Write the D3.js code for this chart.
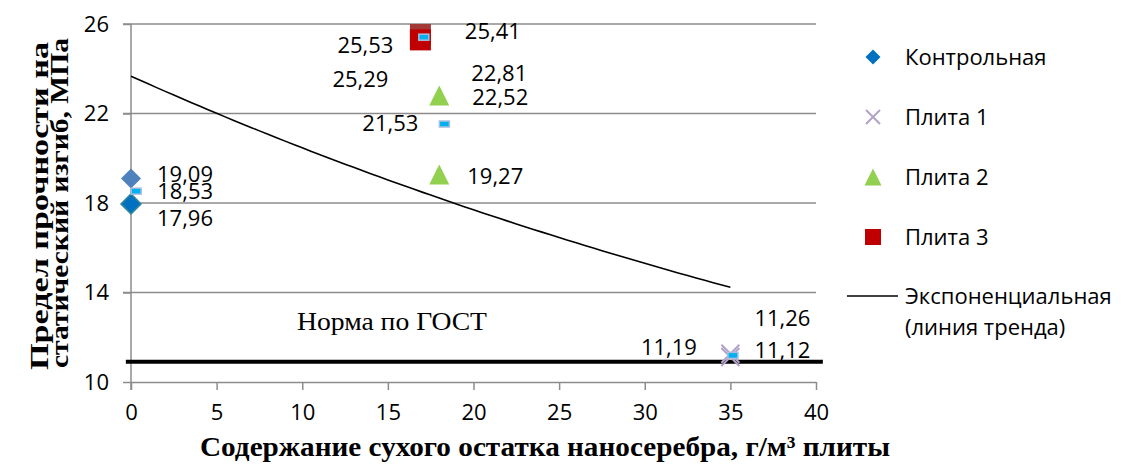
<!DOCTYPE html>
<html>
<head>
<meta charset="utf-8">
<script src="https://cdn.jsdelivr.net/npm/d3@7"></script>
<style>
  body { margin: 0; background: #fff; }
  svg { display: block; }
</style>
</head>
<body>
<svg id="chart" width="1121" height="464"></svg>
<script>
// data
const xTicks = [0, 5, 10, 15, 20, 25, 30, 35, 40];
const yTicks = [10, 14, 18, 22, 26];

const controlX = 0;
const controlValues = [19.09, 17.96];
const plate1X = 35;
const plate1Values = [11.26, 11.12];
const plate2X = 18;
const plate2Values = [22.81, 19.27];
const plate2Hidden = [22.52];           // label only, marker not visible
const plate3X = 16.9;
const plate3Values = [25.53, 25.29];

// means (small dash markers)
const meanX = [0.3, 35.15, 18.3, 17.1];
const meanValues = [18.53, 11.19, 21.53, 25.41];

// trend fitted over means at group x
const trendX = [0, 35, 18, 17];
const gostValue = 10.9;

const legendNames = ["Контрольная", "Плита 1", "Плита 2", "Плита 3"];

// label offsets (px) relative to the point, by label text
const labelPos = {
  "19,09": [26, 3, "start"], "17,96": [26, 22, "start"], "18,53": [21, 8, "start"],
  "11,26": [24, -28, "start"], "11,12": [24, 1, "start"], "11,19": [-36, 0, "end"],
  "22,81": [32, -14, "start"], "19,27": [28, 9, "start"], "22,52": [33, 3, "start"],
  "25,53": [-27, 18, "end"], "25,29": [-32, 47, "end"], "25,41": [41, 2, "start"],
  "21,53": [-26, 7, "end"]
};

const svg = d3.select("#chart");
const x = d3.scaleLinear().domain([0, 40]).range([131, 816]);
const y = d3.scaleLinear().domain([10, 26]).range([382, 24]);
const fmt = v => d3.format(".2f")(v).replace(".", ",");
const gridColor = "#8c8c8c";
const labelFont = "'Open Sans', sans-serif";
const fs = 22;

// gridlines
svg.append("g").selectAll("line").data(yTicks.filter(d => d > 10)).enter().append("line")
  .attr("x1", x(0) - 8).attr("x2", x(40))
  .attr("y1", d => y(d)).attr("y2", d => y(d))
  .attr("stroke", gridColor).attr("stroke-width", 1.5);

// axes
const yAxis = svg.append("g").attr("transform", `translate(${x(0)},0)`)
  .call(d3.axisLeft(y).tickValues(yTicks).tickSize(8).tickSizeOuter(0).tickPadding(14));
const xAxis = svg.append("g").attr("transform", `translate(0,${y(10)})`)
  .call(d3.axisBottom(x).tickValues(xTicks).tickSize(8).tickSizeOuter(0).tickPadding(14));
[xAxis, yAxis].forEach(a => {
  a.selectAll("path, line").attr("stroke", gridColor).attr("stroke-width", 1.5);
  a.selectAll("text").attr("font-family", labelFont).attr("font-size", fs).attr("fill", "#000");
});
yAxis.select(".domain").attr("d", `M0,${y(26)}V${y(10)}`);
yAxis.append("line").attr("x1", 0).attr("x2", 0).attr("y1", y(10)).attr("y2", y(10) + 8)
  .attr("stroke", gridColor).attr("stroke-width", 1.5);

// GOST norm line
svg.append("line")
  .attr("x1", x(-0.3)).attr("x2", x(40.4))
  .attr("y1", y(gostValue)).attr("y2", y(gostValue))
  .attr("stroke", "#000").attr("stroke-width", 4);
svg.append("text").attr("x", 297).attr("y", 330)
  .attr("font-family", "'Liberation Serif', 'Times New Roman', serif").attr("font-size", 25)
  .attr("textLength", 190).attr("lengthAdjust", "spacingAndGlyphs")
  .text("Норма по ГОСТ");

// exponential trend (least squares on ln y)
const lnY = meanValues.map(Math.log);
const mx = d3.mean(trendX), my = d3.mean(lnY);
const b = d3.sum(trendX, (v, i) => (v - mx) * (lnY[i] - my)) / d3.sum(trendX, v => (v - mx) ** 2);
const a = Math.exp(my - b * mx);
const trendPts = d3.range(0, 35.01, 0.5).map(t => [t, a * Math.exp(b * t)]);
svg.append("path").datum(trendPts)
  .attr("d", d3.line().x(d => x(d[0])).y(d => y(d[1])))
  .attr("fill", "none").attr("stroke", "#000").attr("stroke-width", 1.6);

// marker shapes
function marker(g, type, cx, cy, s, fill, stroke) {
  const h = s / 2;
  if (type === "diamond") {
    g.append("path").attr("d", `M${cx},${cy - h}L${cx + h},${cy}L${cx},${cy + h}L${cx - h},${cy}Z`)
      .attr("fill", fill).attr("stroke", stroke || "none").attr("stroke-width", 1.5);
  } else if (type === "square") {
    g.append("rect").attr("x", cx - h).attr("y", cy - h).attr("width", s).attr("height", s)
      .attr("fill", fill);
  } else if (type === "triangle") {
    g.append("path").attr("d", `M${cx},${cy - h}L${cx + h},${cy + h}L${cx - h},${cy + h}Z`)
      .attr("fill", fill);
  } else if (type === "x") {
    g.append("path").attr("d", `M${cx - h},${cy - h}L${cx + h},${cy + h}M${cx + h},${cy - h}L${cx - h},${cy + h}`)
      .attr("stroke", fill).attr("stroke-width", 2);
  }
}

const marks = svg.append("g");
marker(marks, "diamond", x(controlX), y(controlValues[0]), 20, "#4f81bd");
marker(marks, "diamond", x(controlX), y(controlValues[1]), 20, "#0070c0", "#31859c");
plate1Values.forEach(v => marker(marks, "x", x(plate1X), y(v), 18, "#b3a2c7"));
plate2Values.forEach(v => marker(marks, "triangle", x(plate2X), y(v), 20, "#92d050"));
marker(marks, "square", x(plate3X), y(plate3Values[0]), 21, "#a33a38");
marker(marks, "square", x(plate3X), y(plate3Values[1]), 21, "#c00000");

// mean dashes
marks.selectAll("rect.mean").data(meanValues).enter().append("rect").attr("class", "mean")
  .attr("x", (d, i) => x(meanX[i]) - 5).attr("y", d => y(d) - 3)
  .attr("width", 10).attr("height", 6)
  .attr("fill", "#00b0f0").attr("stroke", "#a6bfdf").attr("stroke-width", 1.5);

// data labels
const labelPts = [];
controlValues.forEach(v => labelPts.push([controlX, v]));
plate1Values.forEach(v => labelPts.push([plate1X, v]));
plate2Values.concat(plate2Hidden).forEach(v => labelPts.push([plate2X, v]));
plate3Values.forEach(v => labelPts.push([plate3X, v]));
meanValues.forEach((v, i) => labelPts.push([meanX[i], v]));

svg.append("g").selectAll("text").data(labelPts).enter().append("text")
  .each(function (d) {
    const p = labelPos[fmt(d[1])];
    d3.select(this).attr("x", x(d[0]) + p[0]).attr("y", y(d[1]) + p[1]).attr("text-anchor", p[2]);
  })
  .attr("font-family", labelFont).attr("font-size", fs)
  .text(d => fmt(d[1]));

// legend
const legend = svg.append("g");
const lx = 873, rows = [57, 117, 177, 237];
const legTypes = [["diamond", "#0070c0", 15], ["x", "#b3a2c7", 14], ["triangle", "#92d050", 17], ["square", "#c00000", 16]];
legendNames.forEach((name, i) => {
  marker(legend, legTypes[i][0], lx, rows[i], legTypes[i][2], legTypes[i][1]);
  legend.append("text").attr("x", 905).attr("y", rows[i] + 8)
    .attr("font-family", labelFont).attr("font-size", fs).text(name);
});
legend.append("line").attr("x1", 847).attr("x2", 898).attr("y1", 296).attr("y2", 296)
  .attr("stroke", "#000").attr("stroke-width", 1.6);
legend.append("text").attr("x", 905).attr("y", 304)
  .attr("font-family", labelFont).attr("font-size", fs).text("Экспоненциальная");
legend.append("text").attr("x", 905).attr("y", 335)
  .attr("font-family", labelFont).attr("font-size", fs).text("(линия тренда)");

// axis titles
const serif = "'Liberation Serif', 'Times New Roman', serif";
svg.append("text").attr("x", 545).attr("y", 456).attr("text-anchor", "middle")
  .attr("font-family", serif).attr("font-weight", "bold").attr("font-size", 28)
  .attr("textLength", 690).attr("lengthAdjust", "spacingAndGlyphs")
  .text("Содержание сухого остатка наносеребра, г/м³ плиты");
svg.append("text").attr("transform", "translate(48,206) rotate(-90)").attr("text-anchor", "middle")
  .attr("font-family", serif).attr("font-weight", "bold").attr("font-size", 25)
  .attr("textLength", 328).attr("lengthAdjust", "spacingAndGlyphs")
  .text("Предел прочности на");
svg.append("text").attr("transform", "translate(68,203) rotate(-90)").attr("text-anchor", "middle")
  .attr("font-family", serif).attr("font-weight", "bold").attr("font-size", 25)
  .attr("textLength", 330).attr("lengthAdjust", "spacingAndGlyphs")
  .text("статический изгиб, МПа");
</script>
</body>
</html>
